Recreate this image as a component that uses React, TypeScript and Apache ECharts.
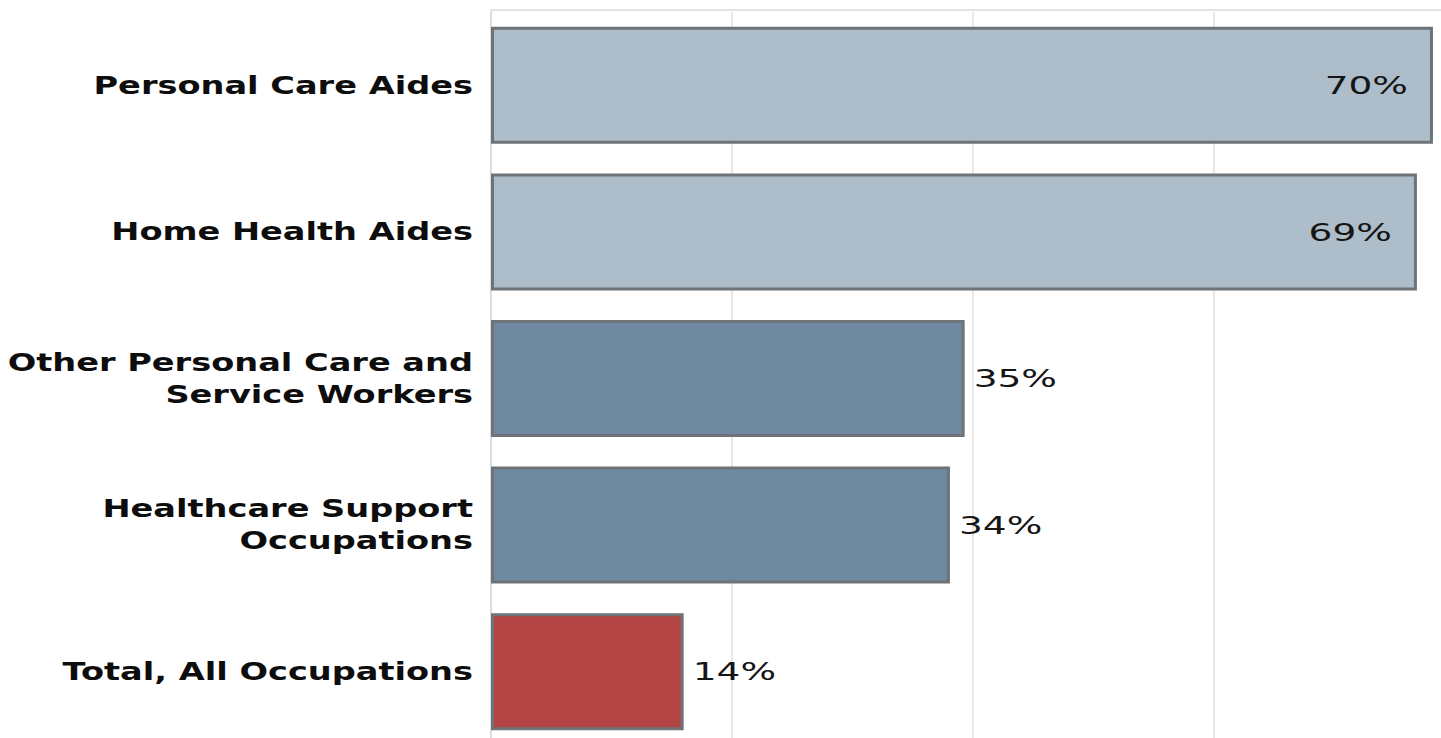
import React, { useEffect, useRef } from "react";
import * as echarts from "echarts";

// ---- Data ----
const categories: string[] = [
  "Personal Care Aides",
  "Home Health Aides",
  "Other Personal Care and\nService Workers",
  "Healthcare Support\nOccupations",
  "Total, All Occupations",
];
const values: number[] = [70.4, 69.2, 35.4, 34.3, 14.4];
const colorGroup: string[] = ["light", "light", "mid", "mid", "total"];

// ---- Style ----
const palette: Record<string, string> = {
  light: "#adbdc9",
  mid: "#6f8aa0",
  total: "#b24444",
};
const FONT = '"DejaVu Sans", Verdana, sans-serif';

export default function App() {
  const ref = useRef<HTMLDivElement>(null);

  useEffect(() => {
    document.body.style.margin = "0";
    const el = ref.current!;
    const chart = echarts.init(el, undefined, { renderer: "svg" });
    const option: any = {
      animation: false,
      backgroundColor: "#ffffff",
      grid: {
        left: 491,
        top: 12,
        width: 72 * 13.38,
        height: 733,
        outerBoundsMode: "none",
        containLabel: false,
        show: false,
      },
      xAxis: {
        type: "value",
        position: "top",
        offset: 2,
        min: 0,
        max: 72,
        interval: 18,
        axisLabel: { show: false },
        axisLine: { show: true, lineStyle: { color: "#e2e2e2", width: 2 } },
        axisTick: { show: false },
        splitLine: { show: true, lineStyle: { color: "#e8e8e8", width: 2 } },
      },
      yAxis: {
        type: "category",
        inverse: true,
        data: categories,
        axisLabel: { show: false },
        axisTick: { show: false },
        axisLine: { show: true, lineStyle: { color: "#dcdcdc", width: 2 } },
      },
      series: [
        {
          type: "bar",
          barWidth: 117,
          data: values.map((v, i) => ({
            value: v,
            itemStyle: { color: palette[colorGroup[i]] },
          })),
          itemStyle: { borderColor: "#6e7377", borderWidth: 3 },
        },
      ],
    };
    chart.setOption(option);

    const graphics: any[] = [];
    categories.forEach((cat, i) => {
      const p = chart.convertToPixel({ gridIndex: 0 } as any, [values[i], i]) as number[];
      const px = p[0];
      const py = p[1];
      graphics.push({
        type: "text",
        x: 473,
        y: py,
        z: 100,
        scaleX: 1.4,
        silent: true,
        style: {
          x: 0,
          y: 0,
          text: cat,
          align: "right",
          verticalAlign: "middle",
          font: `bold 24px ${FONT}`,
          lineHeight: 32,
          fill: "#0d0d0d",
        },
      });
      const inside = values[i] > 50;
      graphics.push({
        type: "text",
        x: inside ? px - 25 : px + 9,
        y: py,
        z: 100,
        scaleX: 1.5,
        silent: true,
        style: {
          x: 0,
          y: 0,
          text: Math.round(values[i]) + "%",
          align: inside ? "right" : "left",
          verticalAlign: "middle",
          font: `25px ${FONT}`,
          fill: "#151515",
        },
      });
    });
    chart.setOption({ graphic: graphics });

    return () => chart.dispose();
  }, []);

  return (
    <div
      ref={ref}
      style={{ position: "fixed", left: 0, top: 0, width: 1441, height: 738 }}
    />
  );
}
